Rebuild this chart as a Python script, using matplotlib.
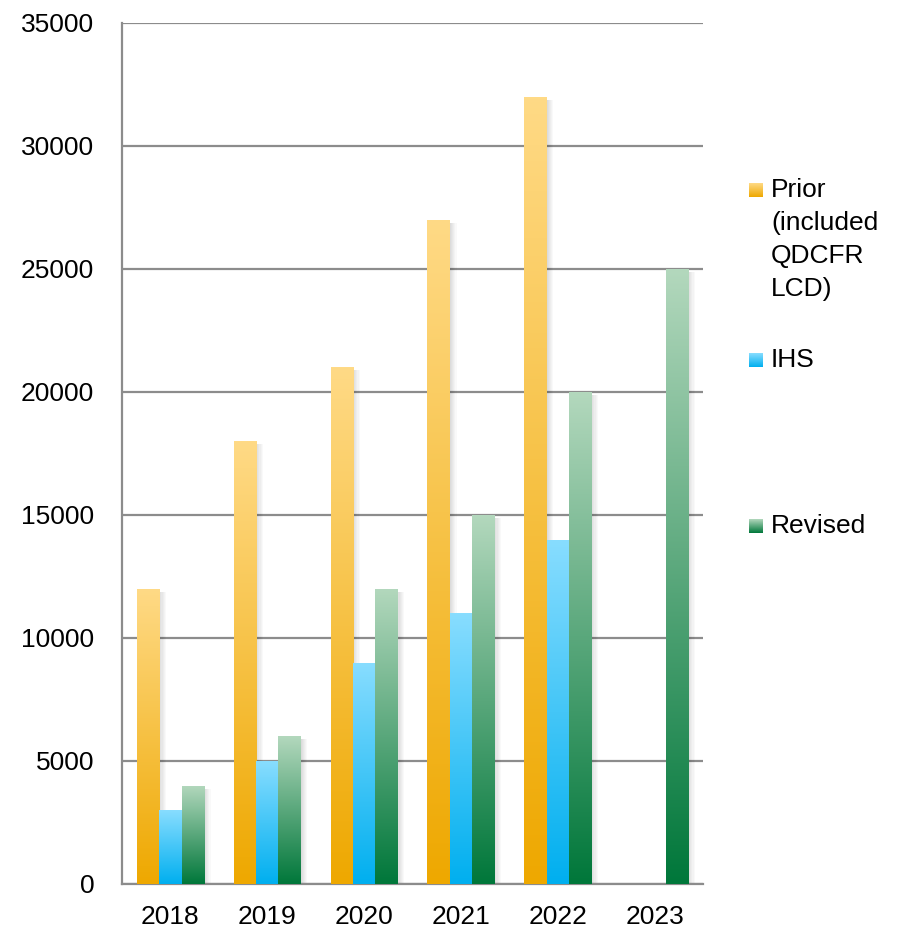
# grouped bar chart with vertical gradient fills, Prior vs IHS vs Revised
import numpy as np
import matplotlib.pyplot as plt
from matplotlib.colors import LinearSegmentedColormap
from matplotlib.patches import Rectangle

plt.rcParams['font.family'] = ['Liberation Sans', 'DejaVu Sans']

years = ['2018', '2019', '2020', '2021', '2022', '2023']
prior = [12000, 18000, 21000, 27000, 32000, np.nan]
ihs = [3000, 5000, 9000, 11000, 14000, np.nan]
revised = [4000, 6000, 12000, 15000, 20000, 25000]

series = [
    ('Prior\n(included\nQDCFR\nLCD)', prior, '#FFDA86', '#EEA800'),
    ('IHS', ihs, '#88DDFF', '#00AFEF'),
    ('Revised', revised, '#B3D8BD', '#00773A'),
]

fs = 19

fig = plt.figure(figsize=(9.03, 9.27), dpi=100)
ax = fig.add_axes([0.1351, 0.0464, 0.6434, 0.9288])

x = np.arange(len(years))
w = 0.23
grad = np.linspace(0, 1, 256).reshape(-1, 1)

for i, (name, vals, top, bot) in enumerate(series):
    cmap = LinearSegmentedColormap.from_list(name, [bot, top])
    xs = x + (i - 1) * w
    bars = ax.bar(xs, vals, w, color='none', edgecolor='none', zorder=3)
    for b in bars:
        h = b.get_height()
        if not np.isfinite(h) or h <= 0:
            continue
        x0 = b.get_x()
        # soft drop shadow to the right
        for k in np.linspace(0.01, 0.07, 6):
            ax.add_patch(Rectangle((x0 + k, 0), w, h - 120, facecolor='#000000',
                                   alpha=0.025, edgecolor='none', zorder=2))
        im = ax.imshow(grad, cmap=cmap, origin='lower', aspect='auto',
                       extent=(x0, x0 + w, 0, h), zorder=4)
        im.set_clip_path(b)

ax.set_xlim(-0.5, len(years) - 0.5)
ax.set_ylim(0, 35000)
ax.set_yticks(np.arange(0, 35001, 5000))
ax.set_xticks(x)
ax.set_xticklabels(years)
ax.tick_params(axis='both', length=0, labelsize=fs, colors='#000000')
ax.tick_params(axis='y', pad=20)
ax.tick_params(axis='x', pad=15)
ax.yaxis.grid(True, color='#8C8C8C', linewidth=1.6)
ax.set_axisbelow(True)
for s in ['top', 'right']:
    ax.spines[s].set_visible(False)
for s in ['left', 'bottom']:
    ax.spines[s].set_color('#8C8C8C')
    ax.spines[s].set_linewidth(1.6)

# legend: gradient swatch plus label, placed in figure pixels
W, H = 903, 927
legend_rows = [(190, series[0]), (360, series[1]), (526, series[2])]
for yc, (name, vals, top, bot) in legend_rows:
    cmap = LinearSegmentedColormap.from_list(name + 'L', [bot, top])
    sw = fig.add_axes([749 / W, 1 - (yc + 7) / H, 14 / W, 14 / H])
    sw.imshow(grad, cmap=cmap, origin='lower', aspect='auto')
    sw.axis('off')
    lines = name.split('\n')
    for j, ln in enumerate(lines):
        fig.text(771 / W, 1 - (yc + j * 33) / H, ln, fontsize=fs,
                 ha='left', va='center')

fig.savefig('out.png', dpi=100)
